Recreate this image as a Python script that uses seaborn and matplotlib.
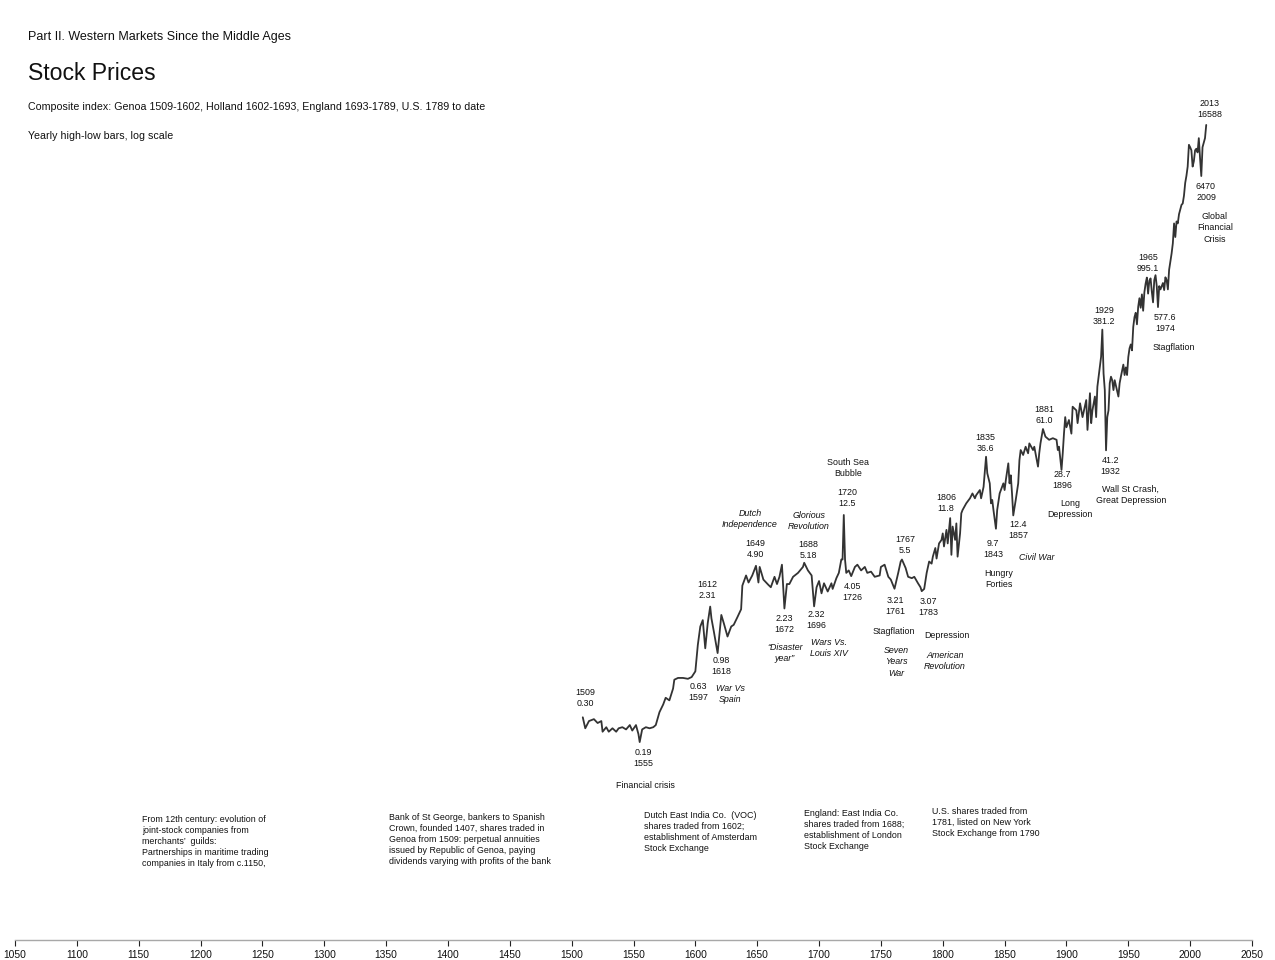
import matplotlib
matplotlib.use("Agg")
import matplotlib.pyplot as plt
import seaborn as sns
import pandas as pd

# composite index (yearly high/low extremes traced as one path)
years = [
    1509, 1511, 1514, 1518, 1521, 1524, 1525, 1528, 1530, 1533, 1536, 1538, 1541, 1544,
    1547, 1549, 1552, 1554, 1555, 1557, 1560, 1563, 1566, 1568, 1571, 1574, 1576, 1579,
    1582, 1583, 1586, 1590, 1594, 1597, 1600, 1602, 1604, 1606, 1608, 1610, 1612, 1613,
    1615, 1618, 1621, 1623, 1626, 1629, 1631, 1634, 1637, 1638, 1641, 1643, 1646, 1649,
    1651, 1652, 1655, 1659, 1661, 1664, 1666, 1668, 1670, 1672, 1674, 1676, 1679, 1683,
    1687, 1688, 1691, 1694, 1696, 1698, 1700, 1702, 1704, 1707, 1710, 1711, 1714, 1716,
    1718, 1719, 1720, 1721, 1722, 1724, 1726, 1729, 1731, 1734, 1737, 1739, 1742, 1745,
    1749, 1750, 1753, 1756, 1758, 1761, 1764, 1766, 1767, 1770, 1772, 1775, 1777, 1780,
    1782, 1783, 1785, 1787, 1789, 1791, 1792, 1794, 1795, 1797, 1799, 1800, 1801, 1803,
    1804, 1806, 1807, 1808, 1810, 1811, 1812, 1814, 1815, 1816, 1819, 1822, 1824, 1826,
    1827, 1830, 1831, 1833, 1835, 1836, 1838, 1839, 1840, 1841, 1843, 1844, 1846, 1849,
    1850, 1851, 1853, 1854, 1855, 1856, 1857, 1859, 1861, 1862, 1863, 1865, 1867, 1869,
    1870, 1873, 1874, 1877, 1878, 1879, 1881, 1883, 1886, 1889, 1892, 1893, 1894, 1896,
    1897, 1898, 1899, 1900, 1902, 1904, 1905, 1908, 1909, 1911, 1913, 1916, 1917, 1919,
    1920, 1921, 1923, 1924, 1925, 1927, 1928, 1929, 1930, 1931, 1932, 1933, 1934, 1935,
    1936, 1937, 1938, 1939, 1942, 1943, 1944, 1946, 1947, 1948, 1949, 1950, 1951, 1952,
    1953, 1954, 1955, 1956, 1957, 1958, 1959, 1960, 1961, 1962, 1963, 1964, 1965, 1966,
    1967, 1968, 1969, 1970, 1971, 1972, 1973, 1974, 1975, 1976, 1978, 1979, 1980, 1981,
    1982, 1983, 1985, 1986, 1987, 1988, 1989, 1990, 1991, 1993, 1994, 1995, 1996, 1997,
    1998, 1999, 2000, 2001, 2002, 2003, 2004, 2005, 2006, 2007, 2008, 2009, 2010, 2011,
    2012, 2013,
]
index_values = [
    0.30, 0.245, 0.28, 0.29, 0.27, 0.28, 0.23, 0.25, 0.23, 0.245, 0.23, 0.245, 0.25, 0.24,
    0.26, 0.235, 0.26, 0.22, 0.19, 0.24, 0.25, 0.245, 0.25, 0.26, 0.33, 0.38, 0.43, 0.41,
    0.51, 0.60, 0.62, 0.62, 0.61, 0.63, 0.70, 1.14, 1.6, 1.8, 1.07, 1.7, 2.31, 1.86,
    1.45, 0.98, 1.98, 1.7, 1.33, 1.6, 1.65, 1.9, 2.2, 3.4, 4.1, 3.6, 4.1, 4.90,
    3.6, 4.8, 3.8, 3.45, 3.3, 4.0, 3.5, 4.0, 5.0, 2.23, 3.5, 3.5, 4.0, 4.3,
    4.8, 5.18, 4.5, 4.1, 2.32, 3.3, 3.7, 2.95, 3.55, 3.05, 3.55, 3.2, 3.9, 4.3,
    5.5, 5.5, 12.5, 5.5, 4.3, 4.5, 4.05, 4.8, 5.0, 4.5, 4.8, 4.3, 4.4, 4.0,
    4.1, 4.8, 5.0, 4.0, 3.8, 3.21, 4.3, 5.3, 5.5, 4.7, 4.0, 3.9, 4.0, 3.55,
    3.3, 3.07, 3.2, 4.3, 5.3, 5.1, 5.8, 6.8, 5.6, 7.4, 7.9, 8.9, 7.0, 9.5,
    7.4, 11.8, 6.0, 10.1, 7.9, 10.7, 5.8, 8.9, 12.9, 13.7, 15.5, 17.0, 18.6, 17.0,
    18.0, 19.8, 17.0, 21.0, 36.6, 27.0, 22.4, 15.5, 16.5, 13.7, 9.7, 13.7, 18.6, 22.4,
    19.8, 23.8, 32.4, 22.4, 26.0, 18.6, 12.4, 16.5, 22.4, 34.4, 41.4, 37.8, 44.0, 39.0,
    46.8, 41.4, 44.0, 30.5, 39.0, 46.8, 61.0, 53.0, 50.0, 51.5, 50.0, 41.4, 44.0, 28.7,
    39.0, 56.0, 76.0, 63.0, 72.0, 56.0, 92.0, 86.0, 68.0, 98.0, 76.0, 104.0, 60.0, 118.0,
    68.0, 86.0, 111.0, 76.0, 133.0, 192.0, 231.0, 381.2, 170.0, 125.0, 41.2, 76.0, 86.0, 142.0,
    160.0, 150.0, 125.0, 150.0, 111.0, 142.0, 160.0, 200.0, 165.0, 190.0, 165.0, 230.0, 270.0, 290.0,
    260.0, 400.0, 480.0, 520.0, 420.0, 580.0, 680.0, 570.0, 730.0, 540.0, 760.0, 890.0, 995.1, 740.0,
    940.0, 980.0, 770.0, 630.0, 950.0, 1040.0, 850.0, 577.6, 850.0, 800.0, 900.0, 790.0, 1000.0, 950.0,
    800.0, 1150.0, 1550.0, 1870.0, 2700.0, 2100.0, 2800.0, 2700.0, 3200.0, 3800.0, 3900.0, 4500.0, 5700.0, 6500.0,
    7700.0, 11500.0, 11000.0, 10400.0, 7700.0, 8500.0, 10400.0, 10700.0, 10000.0, 13000.0, 9000.0, 6470.0, 11000.0, 12000.0,
    13000.0, 16588.0,
]

tick_years = list(range(1050, 2051, 50))

# labels next to the line: (text, x px, y px, italic)
event_labels = [
    ("1509\n0.30", 585, 698, False),
    ("0.19\n1555", 643, 758, False),
    ("Financial crisis", 645, 786, False),
    ("0.63\n1597", 698, 692, False),
    ("War Vs\nSpain", 730, 694, True),
    ("0.98\n1618", 721, 666, False),
    ("1612\n2.31", 707, 590, False),
    ("Dutch\nIndependence", 750, 519, True),
    ("1649\n4.90", 755, 549, False),
    ("2.23\n1672", 784, 624, False),
    ("\u201cDisaster\nyear\u201d", 785, 653, True),
    ("Glorious\nRevolution", 809, 521, True),
    ("1688\n5.18", 808, 550, False),
    ("2.32\n1696", 816, 620, False),
    ("Wars Vs.\nLouis XIV", 829, 648, True),
    ("South Sea\nBubble", 848, 468, False),
    ("1720\n12.5", 847, 498, False),
    ("4.05\n1726", 852, 592, False),
    ("1767\n5.5", 905, 545, False),
    ("3.21\n1761", 895, 606, False),
    ("Stagflation", 894, 632, False),
    ("Seven\nYears\nWar", 896, 662, True),
    ("3.07\n1783", 928, 607, False),
    ("Depression", 947, 635, False),
    ("American\nRevolution", 945, 661, True),
    ("1806\n11.8", 946, 503, False),
    ("1835\n36.6", 985, 443, False),
    ("9.7\n1843", 993, 549, False),
    ("Hungry\nForties", 999, 579, False),
    ("12.4\n1857", 1018, 530, False),
    ("Civil War", 1037, 558, True),
    ("1881\n61.0", 1044, 415, False),
    ("28.7\n1896", 1062, 480, False),
    ("Long\nDepression", 1070, 509, False),
    ("1929\n381.2", 1104, 316, False),
    ("41.2\n1932", 1110, 466, False),
    ("Wall St Crash,\nGreat Depression", 1131, 495, False),
    ("1965\n995.1", 1148, 263, False),
    ("577.6\n1974", 1165, 323, False),
    ("Stagflation", 1174, 347, False),
    ("2013\n16588", 1210, 109, False),
    ("6470\n2009", 1206, 192, False),
    ("Global\nFinancial\nCrisis", 1215, 228, False),
]

# notes along the bottom: (text, left px, top px)
notes = [
    ("From 12th century: evolution of\njoint-stock companies from\nmerchants\u2019  guilds:\n"
     "Partnerships in maritime trading\ncompanies in Italy from c.1150,", 142, 815),
    ("Bank of St George, bankers to Spanish\nCrown, founded 1407, shares traded in\n"
     "Genoa from 1509: perpetual annuities\nissued by Republic of Genoa, paying\n"
     "dividends varying with profits of the bank", 389, 813),
    ("Dutch East India Co.  (VOC)\nshares traded from 1602;\nestablishment of Amsterdam\n"
     "Stock Exchange", 644, 811),
    ("England: East India Co.\nshares traded from 1688;\nestablishment of London\n"
     "Stock Exchange", 804, 809),
    ("U.S. shares traded from\n1781, listed on New York\nStock Exchange from 1790", 932, 807),
]

W, H = 1275, 960

sns.set_theme(style="white")
plt.rcParams['font.family'] = ['Liberation Sans', 'DejaVu Sans']

fig = plt.figure(figsize=(W / 100, H / 100), dpi=100)
fig.patch.set_facecolor('white')
ax = fig.add_axes([15 / W, 20 / H, 1237 / W, 920 / H])

df = pd.DataFrame({'year': years, 'index': index_values})
sns.lineplot(data=df, x='year', y='index', ax=ax, color='#333333',
             linewidth=1.3, estimator=None)

# log scale: 1 decade ~ 124.9 px, value 1.0 sits at y=652 px
ax.set_yscale('log')
ax.set_xlim(1050, 2050)
ax.set_ylim(10 ** ((652 - 940) / 124.9), 10 ** ((652 - 20) / 124.9))
ax.set_xlabel('')
ax.set_ylabel('')

ax.set_xticks(tick_years)
ax.set_xticklabels([str(t) for t in tick_years])
ax.tick_params(axis='x', bottom=True, direction='out', length=4, width=0.8,
               color='#222222', labelcolor='#111111', labelsize=7.4, pad=3)
ax.tick_params(axis='y', which='both', left=False, labelleft=False)
for side in ['left', 'right', 'top']:
    ax.spines[side].set_visible(False)
ax.spines['bottom'].set_color('#a8a8a8')
ax.spines['bottom'].set_linewidth(1.0)
ax.grid(False)


def put(x, y, s, ha='center', va='center', size=6.4, italic=False):
    fig.text(x / W, 1 - y / H, s, ha=ha, va=va, fontsize=size,
             style='italic' if italic else 'normal', color='#111111',
             linespacing=1.3)


# header
put(28, 37, "Part II. Western Markets Since the Middle Ages", ha='left', size=9)
put(28, 74, "Stock Prices", ha='left', size=16.6)
put(28, 107, "Composite index: Genoa 1509-1602, Holland 1602-1693, England 1693-1789, "
    "U.S. 1789 to date", ha='left', size=7.7)
put(28, 136, "Yearly high-low bars, log scale", ha='left', size=7.7)

for text, x, y, italic in event_labels:
    put(x, y, text, italic=italic)

for text, x, y in notes:
    put(x, y, text, ha='left', va='top')

fig.savefig('out.png', dpi=100, facecolor='white')
